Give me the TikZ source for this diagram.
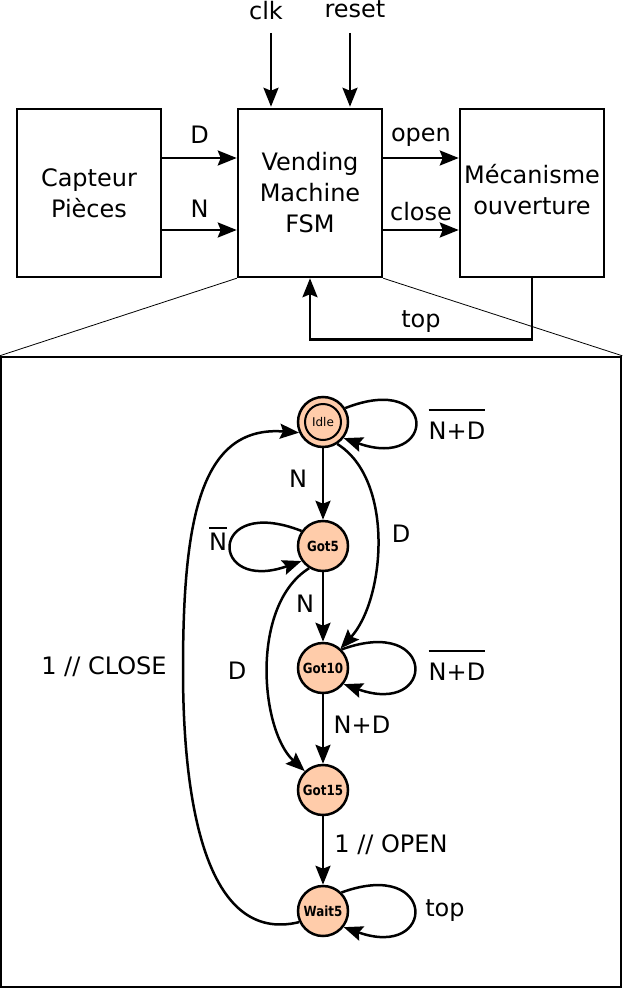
\documentclass[tikz,border=0pt]{standalone}
\usepackage{fontspec}
\setmainfont{DejaVu Sans}
\usetikzlibrary{arrows.meta, positioning, calc}
\definecolor{peche}{RGB}{255,204,170}
\newcommand{\barre}[2]{\setbox0\hbox{#2}\vbox{\hrule height 2.2pt width\wd0 \kern #1\box0}}
\newcommand{\etiq}[1]{\scalebox{0.85}[1]{#1}}

\begin{document}
\begin{tikzpicture}[x=1pt, y=-1pt, line width=2.5pt,
  bloc/.style={draw, minimum width=144pt, minimum height=168pt, align=center,
               font=\fontsize{24}{31}\selectfont},
  etat/.style={circle, draw, fill=peche, minimum size=50pt, inner sep=0pt,
               font=\fontsize{14}{15}\selectfont\bfseries},
  fleche/.style={-{Stealth[length=19pt, width=15pt, inset=3pt]}},
  lbl/.style={font=\fontsize{24}{28}\selectfont, inner sep=0pt},
]
\useasboundingbox (0,0) rectangle (623,990);

% Blocs
\node[bloc] (capteur) at (89,193) {Capteur\\Pièces};
\node[bloc] (fsm)     at (310,193) {Vending\\Machine\\FSM};
\node[bloc] (meca)    at (532,193) {\raisebox{10pt}{\begin{tabular}{@{}c@{}}Mécanisme\\ouverture\end{tabular}}};

% Entrées
\node[lbl] (clk)   at (266,11) {clk};
\node[lbl] (reset) at (355,9) {reset};
\coordinate (clkin)   at (271,33);
\coordinate (resetin) at (350,33);
\draw[fleche, shorten >=1pt] (clkin) -- (clkin |- fsm.north);
\draw[fleche, shorten >=1pt] (resetin) -- (resetin |- fsm.north);

% Flèches
\draw[fleche] ([yshift=35pt]capteur.east) -- node[lbl, above=13pt] (lD) {D} ([yshift=35pt]fsm.west);
\draw[fleche] ([yshift=-37pt]capteur.east) -- node[lbl, above=11pt] (lN) {N} ([yshift=-37pt]fsm.west);
\draw[fleche] ([yshift=35pt]fsm.east) -- node[lbl, above=10pt] (lopen) {open} ([yshift=35pt]meca.west);
\draw[fleche] ([yshift=-37pt]fsm.east) -- node[lbl, above=8pt] (lclose) {close} ([yshift=-37pt]meca.west);
\draw[fleche] (meca.south) -- ++(0,61) -| node[lbl, pos=0.25, above=6pt] (ltop) {top} (fsm.south);

% Zoom sur la FSM
\node[draw, minimum width=620pt, minimum height=630pt] (detail) at (311,672) {};
\draw[line width=0.8pt] (fsm.south west) -- (detail.north west);
\draw[line width=0.8pt] (fsm.south east) -- (detail.north east);

% Etats
\node[etat, font=\fontsize{12}{13}\selectfont] (idle) at (323,422) {Idle};
\draw[line width=2pt] (idle.center) circle (18pt);
\node[etat] (got5)  at (323,546) {\etiq{Got5}};
\node[etat] (got10) at (323,668) {\etiq{Got10}};
\node[etat] (got15) at (323,790) {\etiq{Got15}};
\node[etat] (wait5) at (323,911) {\etiq{Wait5}};

% Transitions
\draw[fleche] (idle) -- node[lbl, midway, xshift=-25pt, yshift=5pt] (tN1) {N} (got5);
\draw[fleche] (got5) -- node[lbl, midway, xshift=-18pt, yshift=3pt] (tN2) {N} (got10);
\draw[fleche] (got10) -- node[lbl, midway, xshift=39pt, yshift=4pt] (tND) {N+D} (got15);
\draw[fleche] (got15) -- node[lbl, midway, xshift=68pt, yshift=6pt] (topen) {1 // OPEN} (wait5);
\draw[fleche] (idle.-57) .. controls (395,480) and (385,600) .. (got10.48);
\draw[fleche] (got5.-122) .. controls (250,605) and (260,730) .. (got15.134);
\draw[fleche] (wait5.-155) .. controls (205,945) and (183,800) .. (183,670)
  .. controls (183,520) and (200,425) .. (idle.-156);

% Boucles
\draw[fleche] (idle.32) .. controls +(94,-37) and +(93,33) .. (idle.-38);
\draw[fleche] (got5.145) .. controls +(-94,-37) and +(-93,33) .. (got5.-145);
\draw[fleche] (got10.45) .. controls +(96,-35) and +(93,33) .. (got10.-38);
\draw[fleche] (wait5.45) .. controls +(96,-35) and +(93,33) .. (wait5.-38);

% Etiquettes
\node[lbl] (tbar1) at (457,424) {\barre{11pt}{N+D}};
\node[lbl] (tbar2) at (457,665) {\barre{11pt}{N+D}};
\node[lbl] (tbarN) at (218,539) {\barre{4pt}{N}};
\node[lbl] (tD1) at (401,534) {D};
\node[lbl] (tD2) at (237,671) {D};
\node[lbl] (tclose) at (104,667) {1 // CLOSE};
\node[lbl] (ttop) at (445,911) {top};
\end{tikzpicture}
\end{document}
